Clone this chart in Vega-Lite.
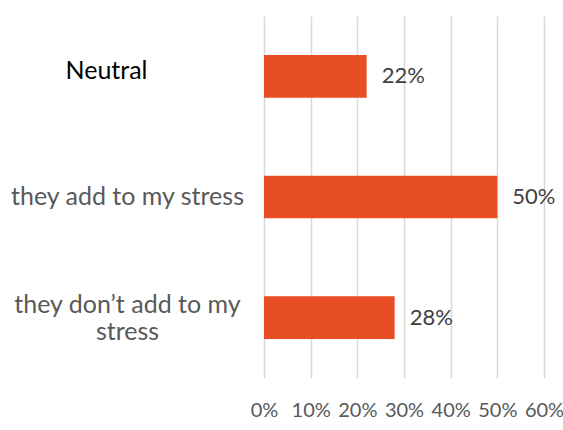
{
  "$schema": "https://vega.github.io/schema/vega-lite/v6.json",
  "width": 280,
  "height": 362,
  "autosize": "none",
  "padding": {"left": 264, "top": 16, "right": 19, "bottom": 52},
  "background": "white",
  "config": {"view": {"stroke": null}, "font": "Lato"},
  "data": {
    "values": [
      {"response": "Neutral", "share": 0.22},
      {"response": "they add to my stress", "share": 0.50},
      {"response": "they don’t add to my stress", "share": 0.28}
    ]
  },
  "encoding": {
    "y": {
      "field": "response",
      "type": "nominal",
      "sort": null,
      "scale": {"paddingInner": 0.646, "paddingOuter": 0.323},
      "axis": {
        "title": null,
        "domain": false,
        "ticks": false,
        "grid": false,
        "labelFont": "Lato",
        "labelFontSize": 25,
        "labelAlign": "center",
        "labelBaseline": "middle",
        "labelLineHeight": 27,
        "labelLimit": 400,
        "labelColor": {"condition": {"test": "datum.value == 'Neutral'", "value": "#000000"}, "value": "#595959"},
        "labelPadding": {"condition": {"test": "datum.value == 'Neutral'", "value": 158}, "value": 137},
        "labelOffset": {"condition": [{"test": "datum.value == 'Neutral'", "value": -5}, {"test": "datum.value == 'they don’t add to my stress'", "value": -13}], "value": 0},
        "labelExpr": "datum.value == 'they don’t add to my stress' ? ['they don’t add to my', 'stress'] : datum.value"
      }
    },
    "x": {
      "field": "share",
      "type": "quantitative",
      "scale": {"domain": [0, 0.6], "nice": false},
      "axis": {
        "title": null,
        "format": ".0%",
        "values": [0, 0.1, 0.2, 0.3, 0.4, 0.5, 0.6],
        "domain": false,
        "ticks": false,
        "grid": true,
        "gridColor": "#D9D9D9",
        "gridWidth": 1.5,
        "labelFont": "Lato",
        "labelFontSize": 20,
        "labelColor": "#595959",
        "labelPadding": 22,
        "labelFlush": false,
        "labelOverlap": false
      }
    }
  },
  "layer": [
    {"mark": {"type": "bar", "color": "#E84E26"}},
    {
      "mark": {"type": "text", "align": "left", "baseline": "middle", "dx": 15, "fontSize": 22, "font": "Lato", "color": "#404040"},
      "encoding": {"text": {"field": "share", "type": "quantitative", "format": ".0%"}}
    }
  ]
}
